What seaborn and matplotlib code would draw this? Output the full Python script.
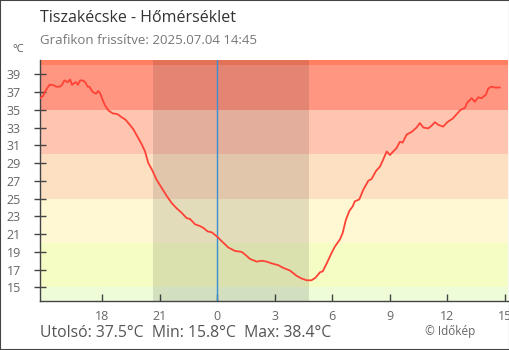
import matplotlib
matplotlib.use("Agg")
import matplotlib.pyplot as plt
import matplotlib.patches as mpatches
import seaborn as sns
import pandas as pd

# ---- data (hours relative to midnight, temperatures in °C) ----
hours = [-9.25, -9.11, -8.94, -8.76, -8.59, -8.41, -8.21, -8.10, -7.98, -7.80,
         -7.68, -7.58, -7.46, -7.37, -7.27, -7.16, -7.02, -6.89, -6.76, -6.68,
         -6.50, -6.33, -6.22, -6.12, -5.98, -5.86, -5.67, -5.46, -5.20, -5.02,
         -4.80, -4.64, -4.38, -4.12, -3.94, -3.77, -3.60, -3.42, -3.16, -2.90,
         -2.64, -2.38, -2.12, -1.86, -1.60, -1.42, -1.16, -0.90, -0.73, -0.50,
         -0.29, 0.00, 0.23, 0.57, 0.92, 1.27, 1.45, 1.71, 2.06, 2.32,
         2.58, 2.84, 3.18, 3.44, 3.79, 4.14, 4.40, 4.66, 4.92, 5.13,
         5.36, 5.50, 5.71, 5.97, 6.14, 6.40, 6.54, 6.71, 6.89, 7.06,
         7.18, 7.41, 7.62, 7.88, 8.05, 8.28, 8.49, 8.66, 8.84, 9.01,
         9.18, 9.36, 9.53, 9.67, 9.88, 10.14, 10.40, 10.57, 10.75, 11.01,
         11.18, 11.36, 11.53, 11.79, 12.00, 12.28, 12.49, 12.70, 12.92, 13.04,
         13.27, 13.44, 13.62, 13.79, 14.02, 14.14, 14.31, 14.49, 14.75]
temps = [36.3, 36.5, 37.2, 37.8, 37.8, 37.6, 37.6, 37.8, 38.3, 38.1,
         38.4, 37.8, 38.0, 38.1, 37.8, 38.3, 38.3, 38.1, 37.6, 37.6,
         37.0, 36.8, 37.1, 36.9, 36.1, 35.5, 34.9, 34.6, 34.5, 34.2,
         33.9, 33.5, 32.8, 31.8, 31.1, 30.3, 29.0, 28.3, 27.1, 26.2,
         25.3, 24.5, 23.9, 23.4, 22.8, 22.7, 22.1, 21.9, 21.7, 21.3,
         21.2, 20.7, 20.2, 19.5, 19.1, 19.0, 18.7, 18.2, 17.9, 18.0,
         17.9, 17.7, 17.5, 17.2, 16.9, 16.3, 16.0, 15.8, 15.8, 16.1,
         16.7, 16.8, 17.7, 18.9, 19.6, 20.4, 21.1, 22.6, 23.6, 24.1,
         24.7, 24.9, 26.0, 27.0, 27.2, 28.1, 28.6, 29.4, 30.3, 29.9,
         30.3, 30.7, 31.4, 31.3, 32.2, 32.5, 33.0, 33.5, 33.0, 32.9,
         33.2, 33.6, 33.3, 33.1, 33.6, 34.0, 34.5, 35.0, 35.2, 35.8,
         36.3, 35.9, 36.4, 36.3, 36.7, 37.4, 37.6, 37.5, 37.5]

band_edges = [13.5, 15, 20, 25, 30, 35, 40, 40.6]
band_colors = ["#eefcd8", "#f5fdc5", "#fff8d2", "#fddfc2", "#ffc5b0", "#ff9681", "#ff7f60"]

night_start, night_end = -3.35, 4.79
xtick_pos = [-6, -3, 0, 3, 6, 9, 12, 15]
xtick_labels = ["18", "21", "0", "3", "6", "9", "12", "15"]
ytick_pos = list(range(15, 40, 2))

title = "Tiszakécske - Hőmérséklet"
subtitle = "Grafikon frissítve: 2025.07.04 14:45"
footer = "Utolsó: 37.5°C  Min: 15.8°C  Max: 38.4°C"
credit = "© Időkép"

# ---- style ----
sns.set_style("white")
plt.rcParams["font.family"] = ["Open Sans", "DejaVu Sans"]

fig = plt.figure(figsize=(5.1, 3.5), dpi=100)
ax = fig.add_axes([40 / 510, 49.3 / 350, 468 / 510, 240.7 / 350])

for lo, hi, c in zip(band_edges[:-1], band_edges[1:], band_colors):
    ax.axhspan(lo, hi, color=c, lw=0, zorder=0)
ax.axvspan(night_start, night_end, color="black", alpha=0.11, lw=0, zorder=1)
ax.axvline(0, color="#3a8fd4", lw=1.0, zorder=2)

df = pd.DataFrame({"hour": hours, "temp": temps})
sns.lineplot(data=df, x="hour", y="temp", ax=ax, color="#ff4236", lw=1.3, zorder=3)

ax.set_xlim(-9.25, 15.17)
ax.set_ylim(band_edges[0], band_edges[-1])
ax.set_xlabel("")
ax.set_ylabel("")

for s in ["top", "right"]:
    ax.spines[s].set_visible(False)
for s in ["left", "bottom"]:
    ax.spines[s].set_color("#444444")
    ax.spines[s].set_linewidth(1.0)

ax.set_yticks(ytick_pos)
ax.set_yticklabels([str(v) for v in ytick_pos])
ax.set_xticks(xtick_pos)
ax.set_xticklabels(xtick_labels)
ax.tick_params(axis="y", direction="inout", length=8.6, width=1.0, color="#444444",
               labelsize=9, labelcolor="#666666", pad=9.5, left=True)
ax.tick_params(axis="x", direction="in", length=5, width=1.0, color="#444444",
               labelsize=9, labelcolor="#666666", pad=6.5, bottom=True)
# corner extensions
ax.set_yticks([band_edges[0]], minor=True)
ax.tick_params(axis="y", which="minor", direction="inout", length=8.6, width=1.0, color="#444444")
ax.set_xticks([-9.25], minor=True)
ax.tick_params(axis="x", which="minor", direction="out", length=4.5, width=1.0, color="#444444")

fig.text(40 / 510, 1 - 18 / 350, title, fontsize=11.5, color="#333333", va="center", ha="left")
fig.text(40 / 510, 1 - 41 / 350, subtitle, fontsize=9.5, color="#777777", va="center", ha="left")
fig.text(12 / 510, 1 - 50 / 350, "°C", fontsize=8, color="#555555", va="center", ha="left")
fig.text(40 / 510, 1 - 333 / 350, footer, fontsize=11.3, color="#555555", va="center", ha="left")
fig.text(425 / 510, 1 - 332 / 350, credit, fontsize=8.5, color="#666666", va="center", ha="left")

fig.patches.append(mpatches.Rectangle((0, 0), 1, 1, transform=fig.transFigure, fill=False,
                                      lw=1.5, ec="#444444"))

fig.savefig("out.png", dpi=100)
